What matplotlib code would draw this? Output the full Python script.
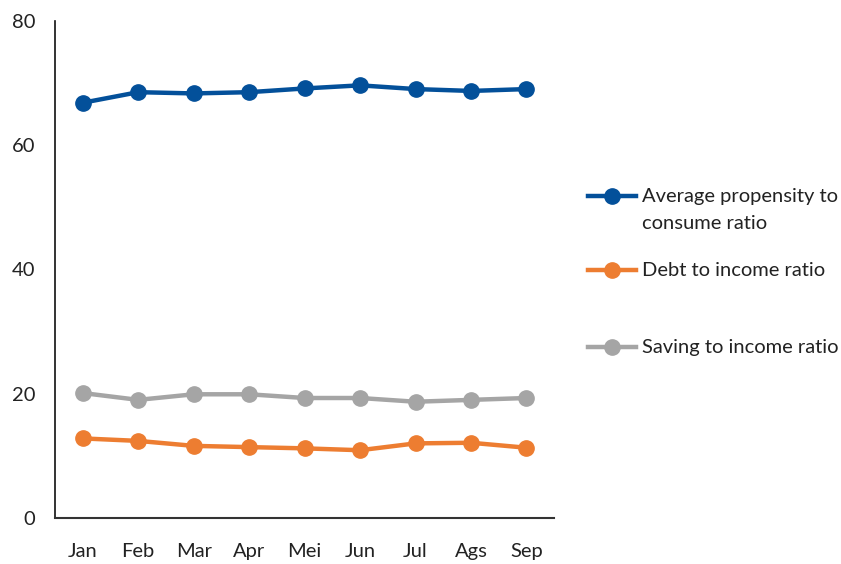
import matplotlib
matplotlib.use("Agg")
import matplotlib.pyplot as plt
from matplotlib.lines import Line2D

# === Data ===
months = ["Jan", "Feb", "Mar", "Apr", "Mei", "Jun", "Jul", "Ags", "Sep"]
apc_ratio = [66.8, 68.5, 68.3, 68.5, 69.1, 69.6, 69.0, 68.7, 69.0]
debt_ratio = [12.8, 12.4, 11.6, 11.4, 11.2, 10.9, 12.0, 12.1, 11.3]
saving_ratio = [20.1, 19.0, 19.9, 19.9, 19.3, 19.3, 18.7, 19.0, 19.3]

labels = ["Average propensity to\nconsume ratio", "Debt to income ratio", "Saving to income ratio"]
colors = ["#03509A", "#ED7D31", "#A5A5A5"]

plt.rcParams["font.family"] = ["Lato", "DejaVu Sans"]

fig = plt.figure(figsize=(8.41, 5.64), dpi=100)
ax = fig.add_axes([0.0654, 0.0816, 0.5936, 0.8817])

x = range(len(months))
for vals, c in zip([apc_ratio, debt_ratio, saving_ratio], colors):
    ax.plot(x, vals, color=c, lw=3.2, marker="o", ms=11, solid_capstyle="round")

ax.set_xlim(-0.5, len(months) - 0.5)
ax.set_ylim(0, 80)
ax.set_yticks([0, 20, 40, 60, 80])
ax.set_xticks(list(x))
ax.set_xticklabels(months)
ax.tick_params(axis="both", length=0, labelsize=14.5, colors="#222222")
ax.tick_params(axis="y", pad=14)
ax.tick_params(axis="x", pad=18)
for s in ["top", "right"]:
    ax.spines[s].set_visible(False)
ax.spines["left"].set_color("#111111")
ax.spines["bottom"].set_color("#333333")
ax.spines["left"].set_linewidth(1.2)
ax.spines["bottom"].set_linewidth(1.5)

# === Legend (Excel-style, handle aligned with first text line) ===
W, H = 841, 564
legend_y = [196, 270, 347]
for lab, c, yp in zip(labels, colors, legend_y):
    fy = 1 - yp / H
    fig.add_artist(Line2D([588 / W, 636 / W], [fy, fy], color=c, lw=3.2,
                          transform=fig.transFigure))
    fig.add_artist(Line2D([612 / W], [fy], color=c, marker="o", ms=11,
                          transform=fig.transFigure))
    fig.text(642 / W, fy + 8 / H, lab, fontsize=14.5, color="#222222",
             va="top", ha="left", linespacing=1.75)

fig.savefig("out.png", dpi=100)
